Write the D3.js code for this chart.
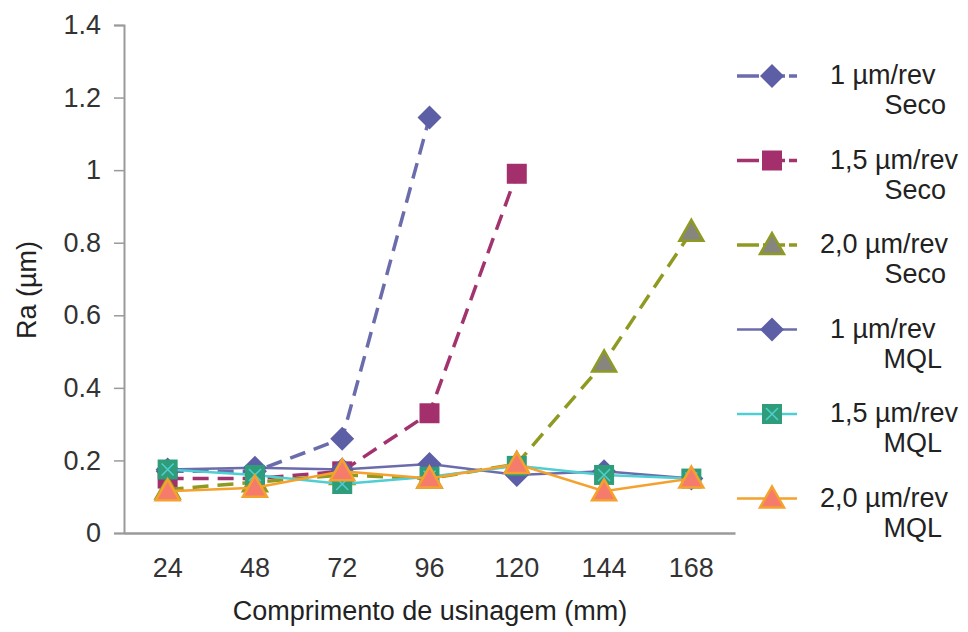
<!DOCTYPE html>
<html>
<head>
<meta charset="utf-8">
<script src="https://cdn.jsdelivr.net/npm/d3@7"></script>
<style>
body { margin: 0; background: #fff; }
text { font-family: "Liberation Sans", Arial, sans-serif; }
</style>
</head>
<body>
<script>
var width = 968
var height = 632

// comprimento de usinagem (mm)
var lengths = ["24", "48", "72", "96", "120", "144", "168"]
var yTicks = [0, 0.2, 0.4, 0.6, 0.8, 1, 1.2, 1.4]

// Ra (um) per series, null = no measurement
var seco1 = [0.17, 0.17, 0.26, 1.145, null, null, null]
var seco15 = [0.15, 0.15, 0.17, 0.33, 0.99, null, null]
var seco20 = [0.12, 0.14, 0.16, 0.15, 0.19, 0.47, 0.83]
var mql1 = [0.175, 0.18, 0.175, 0.19, 0.16, 0.17, 0.15]
var mql15 = [0.175, 0.16, 0.135, 0.155, 0.185, 0.16, 0.15]
var mql20 = [0.115, 0.125, 0.17, 0.15, 0.19, 0.115, 0.15]

var series = [
    {l1: "1 µm/rev", l2: "Seco", values: seco1, line: "#6b6cab", fill: "#5c5fa6", stroke: "none", shape: "diamond", dash: true},
    {l1: "1,5 µm/rev", l2: "Seco", values: seco15, line: "#a3336f", fill: "#a3306c", stroke: "none", shape: "square", dash: true},
    {l1: "2,0 µm/rev", l2: "Seco", values: seco20, line: "#8f9a22", fill: "#86867e", stroke: "#8f9a22", shape: "triangle", dash: true},
    {l1: "1 µm/rev", l2: "MQL", values: mql1, line: "#6b6cab", fill: "#5c5fa6", stroke: "none", shape: "diamond", dash: false},
    {l1: "1,5 µm/rev", l2: "MQL", values: mql15, line: "#4fcfd3", fill: "#2f9c7a", stroke: "none", shape: "square", cross: true, dash: false},
    {l1: "2,0 µm/rev", l2: "MQL", values: mql20, line: "#f5a12e", fill: "#f57b6c", stroke: "#f5a12e", shape: "triangle", dash: false}
]

var svg = d3.select("body")
    .append("svg")
    .attr("width", width)
    .attr("height", height);

var x_scale = d3.scaleBand()
    .domain(lengths)
    .range([124, 735])

var y_scale = d3.scaleLinear()
    .domain([0, 1.4])
    .range([533, 25])

var shapes = {
    diamond: "M0,-12L12,0L0,12L-12,0Z",
    square: "M-10,-10H10V10H-10Z",
    triangle: "M0,-12L12,9L-12,9Z"
}

// axes
var y_axis = svg.append("g")
    .attr("transform", "translate(124,0)")
    .call(d3.axisLeft(y_scale).tickValues(yTicks).tickSize(10).tickPadding(13).tickFormat(d3.format("")))
y_axis.select(".domain").attr("stroke", "#9a9a9a").attr("stroke-width", 2)
y_axis.selectAll(".tick line").attr("stroke", "#9a9a9a").attr("stroke-width", 1.5)
y_axis.selectAll("text").attr("font-size", 27).attr("fill", "#333")

var x_axis = svg.append("g")
    .attr("transform", "translate(0,533)")
    .call(d3.axisBottom(x_scale).tickSize(0).tickPadding(25))
x_axis.select(".domain").attr("stroke", "#9a9a9a").attr("stroke-width", 2.5)
x_axis.selectAll("text").attr("font-size", 27).attr("fill", "#333")

svg.append("text")
    .attr("transform", "translate(36,290) rotate(-90)")
    .attr("text-anchor", "middle")
    .attr("font-size", 27)
    .attr("fill", "#222")
    .text("Ra (µm)")

svg.append("text")
    .attr("x", 430)
    .attr("y", 620)
    .attr("text-anchor", "middle")
    .attr("font-size", 27)
    .attr("fill", "#222")
    .text("Comprimento de usinagem (mm)")

var line = d3.line()
    .defined((d) => d != null)
    .x((d, i) => x_scale(lengths[i]) + x_scale.bandwidth() / 2)
    .y((d) => y_scale(d))

function drawMarker(g, s, cx, cy) {
    g.append("path")
        .attr("d", shapes[s.shape])
        .attr("transform", "translate(" + cx + "," + cy + ")")
        .attr("fill", s.fill)
        .attr("stroke", s.stroke)
        .attr("stroke-width", 2.5)
    if (s.cross) {
        g.append("path")
            .attr("d", "M-6,-6L6,6M-6,6L6,-6")
            .attr("transform", "translate(" + cx + "," + cy + ")")
            .attr("stroke", "#4fcfd3")
            .attr("stroke-width", 1.5)
    }
}

series.forEach((s) => {
    var g = svg.append("g")
    g.append("path")
        .datum(s.values)
        .attr("d", line)
        .attr("fill", "none")
        .attr("stroke", s.line)
        .attr("stroke-width", s.dash ? 3.5 : 2.5)
        .attr("stroke-dasharray", s.dash ? "16,9" : null)
    s.values.forEach((v, i) => {
        if (v == null) return
        drawMarker(g, s, x_scale(lengths[i]) + x_scale.bandwidth() / 2, y_scale(v))
    })
})

// legend
var legend = svg.append("g")
series.forEach((s, i) => {
    var yy = 76 + i * 84.5
    var g = legend.append("g")
    g.append("line")
        .attr("x1", 737).attr("x2", 797)
        .attr("y1", yy).attr("y2", yy)
        .attr("stroke", s.line)
        .attr("stroke-width", s.dash ? 3.5 : 2.5)
        .attr("stroke-dasharray", s.dash ? "22,4" : null)
    drawMarker(g, s, 772, yy)
    g.append("text")
        .attr("x", s.l1 == "2,0 µm/rev" ? 820 : 830)
        .attr("y", yy + 8)
        .attr("font-size", 27)
        .attr("fill", "#222")
        .text(s.l1)
    g.append("text")
        .attr("x", s.l2 == "Seco" ? 946 : 942)
        .attr("y", yy + 38)
        .attr("text-anchor", "end")
        .attr("font-size", 27)
        .attr("fill", "#222")
        .text(s.l2)
})
</script>
</body>
</html>
